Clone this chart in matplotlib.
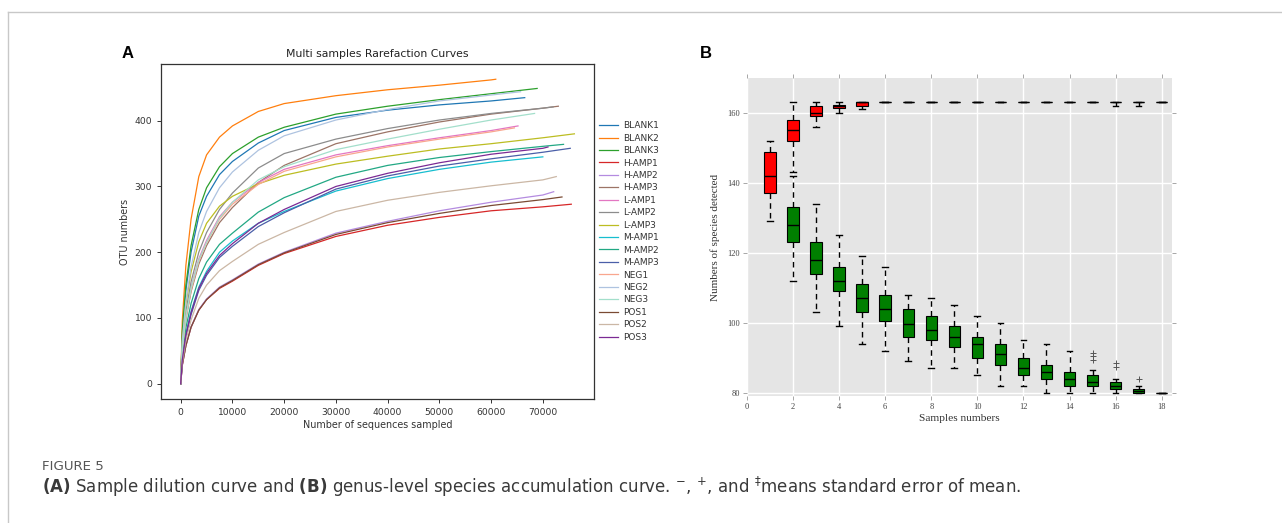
import matplotlib
matplotlib.use("Agg")
import matplotlib.pyplot as plt
from matplotlib.lines import Line2D

# ---- panel A: rarefaction curves ----
seq_grid = [0, 300, 1000, 2000, 3500, 5000, 7500, 10000, 15000, 20000,
            30000, 40000, 50000, 60000, 70000]

sample_names = ["BLANK1", "BLANK2", "BLANK3", "H-AMP1", "H-AMP2", "H-AMP3",
                "L-AMP1", "L-AMP2", "L-AMP3", "M-AMP1", "M-AMP2", "M-AMP3",
                "NEG1", "NEG2", "NEG3", "POS1", "POS2", "POS3"]
sample_colors = ["#1f77b4", "#ff7f0e", "#2ca02c", "#d62728", "#b48be0", "#9c7466",
                 "#e377c2", "#8c8c8c", "#bcbd22", "#17becf", "#22a884", "#4a5fa8",
                 "#f9a68e", "#aec3e0", "#a3dfcb", "#7a4a33", "#cbb7a5", "#7b2a94"]

otu_blank1 = [0, 75, 142, 200, 255, 285, 318, 338, 366, 385, 405, 416, 424, 430]
otu_blank2 = [0, 95, 180, 250, 315, 348, 375, 392, 414, 426, 438, 447, 454, 462]
otu_blank3 = [0, 80, 150, 210, 265, 298, 330, 350, 375, 390, 410, 422, 432, 441]
otu_hamp1 = [0, 28, 58, 86, 112, 128, 145, 156, 180, 198, 224, 241, 253, 263, 269]
otu_hamp2 = [0, 28, 58, 86, 113, 129, 147, 158, 182, 200, 229, 247, 263, 276, 287]
otu_hamp3 = [0, 50, 98, 140, 182, 210, 245, 268, 306, 332, 365, 383, 398, 410, 419]
otu_lamp1 = [0, 52, 103, 146, 190, 218, 254, 276, 306, 326, 348, 362, 374, 385]
otu_lamp2 = [0, 58, 110, 155, 200, 230, 265, 290, 328, 350, 372, 388, 401, 411, 419]
otu_lamp3 = [0, 62, 122, 170, 216, 244, 270, 285, 304, 317, 334, 346, 357, 365, 374]
otu_mamp1 = [0, 36, 76, 110, 147, 171, 200, 217, 244, 262, 293, 312, 326, 337, 345]
otu_mamp2 = [0, 42, 85, 122, 160, 185, 212, 229, 261, 283, 314, 332, 344, 353, 361]
otu_mamp3 = [0, 34, 72, 105, 142, 165, 192, 209, 239, 260, 296, 316, 331, 342, 352]
otu_neg1 = [0, 50, 100, 142, 186, 214, 250, 273, 303, 323, 345, 360, 372, 383]
otu_neg2 = [0, 65, 125, 178, 230, 262, 298, 322, 355, 377, 401, 417, 430, 439]
otu_neg3 = [0, 52, 102, 145, 188, 215, 252, 276, 310, 330, 356, 372, 387, 401]
otu_pos1 = [0, 28, 58, 86, 112, 128, 146, 157, 181, 199, 227, 245, 259, 271, 280]
otu_pos2 = [0, 32, 66, 97, 130, 150, 172, 186, 212, 230, 262, 279, 291, 301, 310]
otu_pos3 = [0, 36, 74, 108, 145, 168, 195, 213, 244, 265, 300, 320, 336, 349, 358]

# last sampled depth and OTU count of each curve
end_depth = [66500, 60900, 68900, 75500, 72100, 73000, 65200, 72000, 76100, 70000,
             74000, 75300, 64500, 65700, 68400, 73700, 72600, 71000]
end_otu = [435, 463, 449, 273, 292, 422, 392, 421, 380, 345,
           364, 358, 389, 444, 411, 284, 315, 360]

otu_curves = [otu_blank1, otu_blank2, otu_blank3, otu_hamp1, otu_hamp2, otu_hamp3,
              otu_lamp1, otu_lamp2, otu_lamp3, otu_mamp1, otu_mamp2, otu_mamp3,
              otu_neg1, otu_neg2, otu_neg3, otu_pos1, otu_pos2, otu_pos3]

# ---- panel B: species accumulation boxplots ----
sample_pos = list(range(1, 19))
red_q1 = [137, 152, 159, 161.5, 162, 163, 163, 163, 163, 163, 163, 163, 163, 163, 163, 163, 163, 163]
red_med = [142, 155, 160, 162, 163, 163, 163, 163, 163, 163, 163, 163, 163, 163, 163, 163, 163, 163]
red_q3 = [148.7, 158, 162, 162.3, 163, 163, 163, 163, 163, 163, 163, 163, 163, 163, 163, 163, 163, 163]
red_lo = [129, 143, 156, 160, 161, 163, 163, 163, 163, 163, 163, 163, 163, 163, 163, 162, 162, 163]
red_hi = [152, 163, 163, 163, 163, 163, 163, 163, 163, 163, 163, 163, 163, 163, 163, 163, 163, 163]

green_pos = list(range(2, 19))
green_q1 = [123, 114, 109, 103, 100.5, 96, 95, 93, 90, 88, 85, 84, 82, 82, 81, 80, 80]
green_med = [128, 118, 112, 107, 104, 99.5, 98, 96, 94, 91, 87, 86, 84, 83, 82, 80.5, 80]
green_q3 = [133, 123, 116, 111, 108, 104, 102, 99, 96, 94, 90, 88, 86, 85, 83, 81, 80]
green_lo = [112, 103, 99, 94, 92, 89, 87, 87, 85, 82, 82, 80, 80, 80, 80, 80, 80]
green_hi = [142, 134, 125, 119, 116, 108, 107, 105, 102, 100, 95, 94, 92, 86.5, 84, 82, 80]
green_fliers = {15: [89.3, 90.5, 91.4], 16: [87.2, 88.4], 17: [84]}


def box_stats(pos, q1, med, q3, lo, hi, fliers):
    stats = []
    for i, p in enumerate(pos):
        stats.append({"q1": q1[i], "med": med[i], "q3": q3[i],
                      "whislo": lo[i], "whishi": hi[i],
                      "fliers": fliers.get(p, [])})
    return stats


plt.rcParams["mathtext.fontset"] = "dejavusans"

fig = plt.figure(figsize=(12.82, 5.23), dpi=100)

# ---- A ----
axA = fig.add_axes([0.1256, 0.2371, 0.3378, 0.6405])
for name, col, ys, xe, ye in zip(sample_names, sample_colors, otu_curves, end_depth, end_otu):
    xs = seq_grid[:len(ys)]
    if xe > xs[-1]:
        xs = xs + [xe]
        ys = ys + [ye]
    axA.plot(xs, ys, color=col, lw=0.9, label=name)

axA.set_xticks(range(0, 70001, 10000))
axA.set_yticks(range(0, 401, 100))
axA.tick_params(labelsize=6.6, colors="#333333", length=3, width=0.7)
for s in axA.spines.values():
    s.set_color("#333333")
    s.set_linewidth(0.9)
axA.set_title("Multi samples Rarefaction Curves", fontsize=7.8, color="#222222", pad=5)
axA.set_xlabel("Number of sequences sampled", fontsize=6.9, color="#333333", labelpad=2)
axA.set_ylabel("OTU numbers", fontsize=6.9, color="#333333", labelpad=3)
axA.legend(loc="center left", bbox_to_anchor=(1.003, 0.5), frameon=False, fontsize=6.5,
           labelspacing=0.38, handlelength=2.1, handletextpad=0.55, borderaxespad=0,
           labelcolor="#333333")

# ---- B ----
axB = fig.add_axes([0.5827, 0.2428, 0.3315, 0.6080])
axB.set_facecolor("#e5e5e5")
axB.grid(True, color="white", lw=1)
axB.set_axisbelow(True)
for s in axB.spines.values():
    s.set_visible(False)

common = dict(widths=0.5, patch_artist=True, manage_ticks=False,
              whiskerprops=dict(color="black", lw=1, linestyle=(0, (4, 3))),
              capprops=dict(color="black", lw=1),
              medianprops=dict(color="black", lw=1),
              flierprops=dict(marker="+", markeredgecolor="#555555", markersize=5,
                              markeredgewidth=0.7))
axB.bxp(box_stats(sample_pos, red_q1, red_med, red_q3, red_lo, red_hi, {}),
        positions=sample_pos,
        boxprops=dict(facecolor="#ff0000", edgecolor="black", lw=0.8), **common)
axB.bxp(box_stats(green_pos, green_q1, green_med, green_q3, green_lo, green_hi, green_fliers),
        positions=green_pos,
        boxprops=dict(facecolor="#007f00", edgecolor="black", lw=0.8), **common)

axB.set_xlim(0, 18.45)
axB.set_ylim(79, 170)
axB.set_xticks(range(0, 19, 2))
axB.set_yticks(range(80, 161, 20))
axB.tick_params(direction="out", length=3, width=0.6, color="#999999",
                labelsize=6, labelcolor="#444444", top=True, right=True, pad=2)
for lab in axB.get_xticklabels() + axB.get_yticklabels():
    lab.set_family("Liberation Serif")
axB.set_xlabel("Samples numbers", fontsize=8.2, family="Liberation Serif", color="#333333", labelpad=2)
axB.set_ylabel("Numbers of species detected", fontsize=8, family="Liberation Serif",
               color="#333333", labelpad=5)

# ---- panel letters, frame and caption ----
fig.text(128 / 1282, 1 - 54 / 523, "A", fontsize=12, weight="bold", family="Liberation Sans",
         ha="center", va="center")
fig.text(706 / 1282, 1 - 54 / 523, "B", fontsize=12, weight="bold", family="Liberation Sans",
         ha="center", va="center")

fig.add_artist(Line2D([8 / 1282, 1], [1 - 12 / 523, 1 - 12 / 523], transform=fig.transFigure,
                      color="#c8c8c8", lw=1))
fig.add_artist(Line2D([8 / 1282, 8 / 1282], [0, 1 - 12 / 523], transform=fig.transFigure,
                      color="#c8c8c8", lw=1))

fig.text(42 / 1282, 1 - 470 / 523, "FIGURE 5", fontsize=9.6, family="DejaVu Sans",
         color="#555555", va="baseline")
fig.text(42 / 1282, 1 - 493 / 523,
         r"$\mathbf{(A)}$ Sample dilution curve and $\mathbf{(B)}$ genus-level species "
         r"accumulation curve. $^{-}$, $^{+}$, and $^{\ddag}$means standard error of mean.",
         fontsize=12, family="DejaVu Sans", color="#3a3a3a", va="baseline")

fig.savefig("out.png", dpi=100)
